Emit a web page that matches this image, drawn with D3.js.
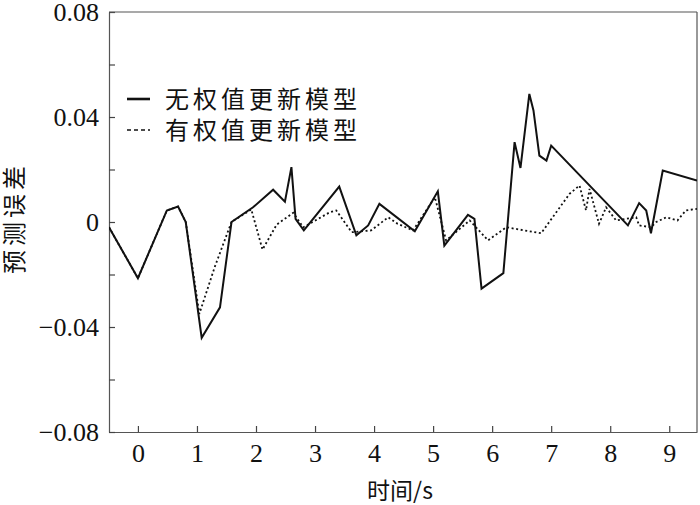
<!DOCTYPE html>
<html>
<head>
<meta charset="utf-8">
<script src="https://cdn.jsdelivr.net/npm/d3@7"></script>
<style>
  body { margin: 0; background: #fff; }
  svg { display: block; }
</style>
</head>
<body>
<svg id="chart"></svg>
<script>
// solid line: model without weight update
let timeA = [-0.49, 0, 0.49, 0.68, 0.81, 1.08, 1.39, 1.585, 1.95, 2.29, 2.49, 2.6, 2.67, 2.81, 3.41, 3.70, 3.90, 4.09, 4.69, 5.08, 5.19, 5.59, 5.70, 5.82, 6.19, 6.38, 6.48, 6.63, 6.70, 6.80, 6.92, 7.0, 8.30, 8.49, 8.61, 8.69, 8.89, 9.47]
let errA = [-0.002, -0.0214, 0.0044, 0.0059, 0, -0.0441, -0.0325, 0, 0.0056, 0.0123, 0.0077, 0.0209, 0.0012, -0.0032, 0.0135, -0.0051, -0.0013, 0.0069, -0.0035, 0.0117, -0.009, 0.0027, 0.0012, -0.0254, -0.0195, 0.0304, 0.0206, 0.0488, 0.0425, 0.0253, 0.0234, 0.0291, -0.0013, 0.0072, 0.0044, -0.0043, 0.0196, 0.0158]

// dotted line: model with weight update
let timeB = [-0.49, 0, 0.49, 0.68, 0.81, 1.04, 1.30, 1.50, 1.585, 1.92, 2.11, 2.35, 2.63, 2.80, 3.25, 3.36, 3.62, 3.95, 4.24, 4.40, 4.66, 5.03, 5.22, 5.62, 5.93, 6.24, 6.83, 7.31, 7.48, 7.59, 7.65, 7.81, 7.93, 8.10, 8.44, 8.49, 8.69, 8.78, 8.95, 9.14, 9.28, 9.47]
let errB = [-0.002, -0.0214, 0.0044, 0.0059, 0, -0.035, -0.0172, -0.0051, 0, 0.0048, -0.0105, -0.001, 0.0035, -0.002, 0.0037, 0.0044, -0.0039, -0.0032, 0.0018, -0.0007, -0.0032, 0.0094, -0.007, 0.0006, -0.007, -0.002, -0.0043, 0.0107, 0.0139, 0.0044, 0.0126, -0.0007, 0.0056, 0.0006, 0.0018, -0.0013, -0.002, 0, 0.0018, 0.0006, 0.0044, 0.005]

let xTicks = [0, 1, 2, 3, 4, 5, 6, 7, 8, 9]
let yTicks = [-0.08, -0.06, -0.04, -0.02, 0, 0.02, 0.04, 0.06, 0.08]
let yLabels = {'-0.08': '\u22120.08', '-0.04': '\u22120.04', '0': '0', '0.04': '0.04', '0.08': '0.08'}
let legendNames = ['无权值更新模型', '有权值更新模型']

let width = 700
let height = 505
let padLeft = 109, padRight = 697, padTop = 12, padBottom = 432
let numFont = '"Liberation Serif", "DejaVu Serif", serif'
let cjkFont = '"Noto Sans CJK SC", sans-serif'

let svg = d3.select('#chart').attr('width', width).attr('height', height)

let xScale = d3.scaleLinear().domain([-0.49, 9.47]).range([padLeft, padRight])
let yScale = d3.scaleLinear().domain([-0.08, 0.08]).range([padBottom, padTop])

svg.append('clipPath').attr('id', 'plot-clip')
    .append('rect')
    .attr('x', padLeft).attr('y', padTop)
    .attr('width', padRight - padLeft).attr('height', padBottom - padTop)

// axes
let xAxis = d3.axisBottom(xScale).tickValues(xTicks)
    .tickSizeInner(-6).tickSizeOuter(0).tickPadding(12)
    .tickFormat(d3.format('d'))
let yAxis = d3.axisLeft(yScale).tickValues(yTicks)
    .tickSizeInner(-6).tickSizeOuter(0).tickPadding(10)
    .tickFormat(d => yLabels[String(+d.toFixed(2))] || '')

let gx = svg.append('g').attr('transform', 'translate(0,' + padBottom + ')').call(xAxis)
let gy = svg.append('g').attr('transform', 'translate(' + padLeft + ',0)').call(yAxis)

;[gx, gy].forEach(g => {
    g.select('.domain').attr('stroke', '#555').attr('stroke-width', 1.2)
    g.selectAll('.tick line').attr('stroke', '#444').attr('stroke-width', 1.2)
    g.selectAll('.tick text')
        .attr('fill', '#111')
        .style('font-family', numFont)
        .style('font-size', '26px')
})

// top and right frame
svg.append('line').attr('x1', padLeft).attr('x2', padRight).attr('y1', padTop).attr('y2', padTop)
    .attr('stroke', '#555').attr('stroke-width', 1.2)
svg.append('line').attr('x1', padRight).attr('x2', padRight).attr('y1', padTop).attr('y2', padBottom)
    .attr('stroke', '#555').attr('stroke-width', 1.2)

// lines
let line = d3.line().x(d => xScale(d[0])).y(d => yScale(d[1]))
let plot = svg.append('g').attr('clip-path', 'url(#plot-clip)')

plot.append('path')
    .datum(d3.zip(timeB, errB))
    .attr('d', line)
    .attr('fill', 'none')
    .attr('stroke', '#111')
    .attr('stroke-width', 1.8)
    .attr('stroke-dasharray', '2,2.6')

plot.append('path')
    .datum(d3.zip(timeA, errA))
    .attr('d', line)
    .attr('fill', 'none')
    .attr('stroke', '#111')
    .attr('stroke-width', 2)
    .attr('stroke-linejoin', 'miter')

// legend
let legend = svg.append('g')
legendNames.forEach((name, i) => {
    let y = 99 + i * 31
    legend.append('line')
        .attr('x1', 127).attr('x2', 150).attr('y1', y).attr('y2', y)
        .attr('stroke', '#111')
        .attr('stroke-width', i === 0 ? 2.6 : 1.3)
        .attr('stroke-dasharray', i === 0 ? null : '4,3')
    legend.append('text')
        .attr('x', 165).attr('y', y)
        .attr('dy', '0.36em')
        .style('font-family', cjkFont)
        .style('font-size', '24px')
        .style('letter-spacing', '4px')
        .attr('fill', '#111')
        .text(name)
})

// axis titles
svg.append('text')
    .attr('x', 400).attr('y', 491)
    .attr('text-anchor', 'middle')
    .attr('dy', '0.36em')
    .style('font-family', cjkFont)
    .style('font-size', '23px')
    .attr('fill', '#111')
    .text('时间/s')

svg.append('text')
    .attr('transform', 'translate(14,218) rotate(-90)')
    .attr('text-anchor', 'middle')
    .attr('dy', '0.36em')
    .style('font-family', cjkFont)
    .style('font-size', '24px')
    .style('letter-spacing', '4px')
    .attr('fill', '#111')
    .text('预测误差')
</script>
</body>
</html>
